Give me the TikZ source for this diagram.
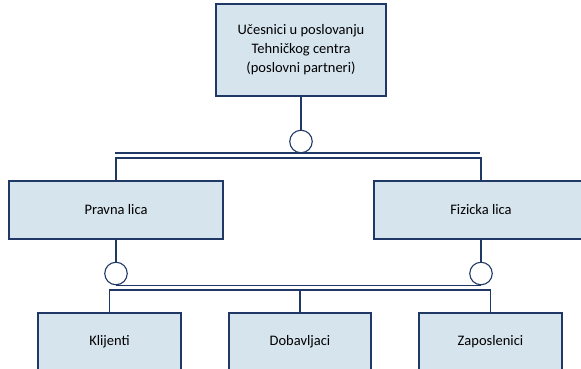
\documentclass[tikz,border=0pt]{standalone}
\usepackage{fontspec}
\setmainfont{Carlito}
\definecolor{boxblue}{RGB}{214,228,238}
\definecolor{linenavy}{RGB}{32,56,102}
\tikzset{
  partbox/.style={draw=linenavy, fill=boxblue, line width=1.2pt, align=center,
    inner sep=0pt, font=\fontsize{14.5}{19}\selectfont},
  joint/.style={circle, draw=linenavy, fill=white, line width=1.1pt,
    minimum size=22.5pt, inner sep=0pt},
}
\begin{document}
\begin{tikzpicture}[x=1pt, y=-1pt, line width=1.2pt, draw=linenavy]

      \useasboundingbox (0,0) rectangle (581,368);

      \begin{scope}[every node/.style={partbox}]
        \node[minimum width=170pt, minimum height=92pt] (top) at (301,50)
          {Učesnici u poslovanju\\Tehničkog centra\\(poslovni partneri)};
        \node[minimum width=214pt, minimum height=58pt] (pravna)  at (116,210)   {Pravna lica};
        \node[minimum width=214pt, minimum height=58pt] (fizicka) at (481,210)   {Fizicka lica};
        \node[minimum width=143pt, minimum height=58pt] (klijenti)    at (109.5,342) {Klijenti};
        \node[minimum width=142pt, minimum height=58pt] (dobavljaci)  at (300,342)   {Dobavljaci};
        \node[minimum width=143pt, minimum height=58pt] (zaposlenici) at (490.5,342) {Zaposlenici};
      \end{scope}

      \begin{scope}[every node/.style={joint}]
        \node (j0) at (301,141.5) {};
        \node (j1) at (116,273.5) {};
        \node (j2) at (481,273.5) {};
      \end{scope}

      \coordinate (l0) at (115,153);
      \coordinate (r0) at (480,153);
      \coordinate (m0) at (301,158);
      \coordinate (m1) at (300,290);

      \draw (top) -- (j0);
      \draw (l0) -- (r0);
      \draw (pravna.north) |- (m0) -| (fizicka.north);

      \draw (pravna) -- (j1);
      \draw (fizicka) -- (j2);
      \draw (j1.south) -- (j2.south);
      \draw (klijenti.north) |- (m1) -| (zaposlenici.north);
      \draw (dobavljaci) -- (m1);

\end{tikzpicture}
\end{document}
